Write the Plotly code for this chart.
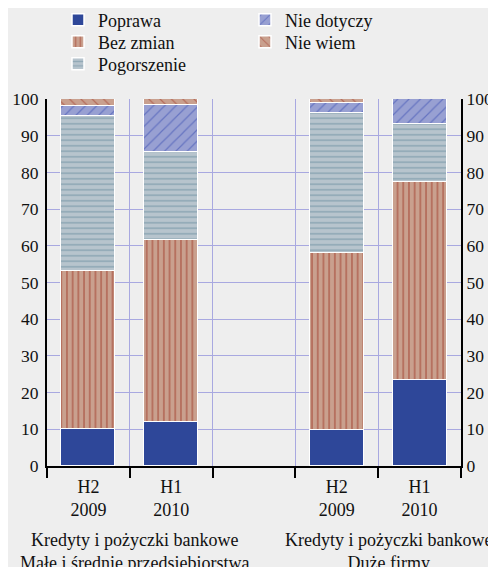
import plotly.graph_objects as go

categories = ["H2<br>2009", "H1<br>2010", "", "H2<br>2009", "H1<br>2010"]
group_labels = ["Kredyty i pożyczki bankowe<br>Małe i średnie przedsiębiorstwa",
                "Kredyty i pożyczki bankowe<br>Duże firmy"]
series_names = ["Poprawa", "Bez zmian", "Pogorszenie", "Nie dotyczy", "Nie wiem"]
poprawa     = [10.0, 12.0, None, 9.8, 23.4]
bez_zmian   = [43.2, 49.6, None, 48.3, 54.0]
pogorszenie = [42.2, 23.9, None, 38.0, 15.8]
nie_dotyczy = [2.7, 12.9, None, 2.9, 6.8]
nie_wiem    = [1.9, 1.6, None, 1.0, 0.0]
y_ticks = [0, 10, 20, 30, 40, 50, 60, 70, 80, 90, 100]

values = [poprawa, bez_zmian, pogorszenie, nie_dotyczy, nie_wiem]
styles = [
    dict(color="#2e4799", shape="", fg=None, size=6, sol=0.3),
    dict(color="#c9a08e", shape="|", fg="#a03626", size=5.7, sol=0.3),
    dict(color="#b7c4cd", shape="-", fg="#6d8e9f", size=5.5, sol=0.3),
    dict(color="#98a0d2", shape="/", fg="#3549b0", size=8, sol=0.15),
    dict(color="#c9a08e", shape="\\", fg="#a03626", size=8, sol=0.15),
]

x_pos = list(range(len(categories)))
FONT = "Liberation Serif, Times New Roman, serif"
W, H = 488, 559

# legend placement (figure px): left x, row centre y
legend_xy = [(50, 12), (50, 34), (50, 56), (237, 12), (237, 34)]
legend_keys = ["legend", "legend2", "legend3", "legend4", "legend5"]

fig = go.Figure()
for name, vals, st, lg in zip(series_names, values, styles, legend_keys):
    pattern = dict(shape=st["shape"], size=st["size"], solidity=st["sol"])
    if st["fg"]:
        pattern["fgcolor"] = st["fg"]
    fig.add_trace(go.Bar(
        x=x_pos, y=vals, name=name, width=0.65,
        marker=dict(color=st["color"], pattern=pattern,
                    line=dict(color="white", width=1.5)),
        legend=lg,
    ))

n = len(categories)
boundaries = [i - 0.5 for i in range(n + 1)]
label_pos = [i for i, c in enumerate(categories) if c]
label_txt = [c for c in categories if c]

legend_layout = {}
for key, (lx, ly) in zip(legend_keys, legend_xy):
    legend_layout[key] = dict(x=lx / W, y=1 - ly / H, xref="container", yref="container",
                              xanchor="left", yanchor="middle", bgcolor="rgba(0,0,0,0)",
                              font=dict(size=18), itemwidth=30)

fig.update_layout(
    width=W, height=H,
    barmode="stack",
    bargap=0,
    paper_bgcolor="#eeeeee",
    plot_bgcolor="#eeeeee",
    font=dict(family=FONT, size=18, color="#111111"),
    margin=dict(l=39, r=35, t=91, b=101, autoexpand=False),
    xaxis=dict(range=[-0.5, n - 0.5], tickvals=boundaries, ticktext=[""] * len(boundaries),
               showgrid=True, gridcolor="#a8a8e0", gridwidth=1,
               ticks="outside", ticklen=10, tickwidth=2, tickcolor="black",
               showline=True, linecolor="black", linewidth=2, zeroline=False),
    xaxis2=dict(range=[-0.5, n - 0.5], overlaying="x", side="bottom", anchor="y",
                tickvals=label_pos, ticktext=label_txt, showgrid=False, ticks="",
                showline=False, zeroline=False, ticklabelstandoff=8),
    yaxis=dict(range=[0, 100], tickvals=y_ticks, showgrid=True, gridcolor="#a8a8e0",
               gridwidth=1, showline=True, linecolor="black", linewidth=2,
               ticks="", zeroline=False, ticklabelstandoff=3, tickfont=dict(size=17.5)),
    yaxis2=dict(range=[0, 100], tickvals=y_ticks, overlaying="y", side="right",
                showgrid=False, showline=True, linecolor="black", linewidth=2,
                ticks="", zeroline=False, ticklabelstandoff=0, tickfont=dict(size=17.5)),
    **legend_layout,
)

# invisible trace to activate secondary axes
fig.add_trace(go.Scatter(x=[0], y=[0], xaxis="x2", yaxis="y2", mode="markers",
                         marker=dict(opacity=0), showlegend=False, hoverinfo="skip"))

group_centers = [0.56, 3.63]
for gx, gl in zip(group_centers, group_labels):
    fig.add_annotation(x=gx, xref="x", y=-0.170, yref="paper", text=gl,
                       showarrow=False, font=dict(size=18, family=FONT),
                       xanchor="center", yanchor="top")

fig.write_html("out.html")
